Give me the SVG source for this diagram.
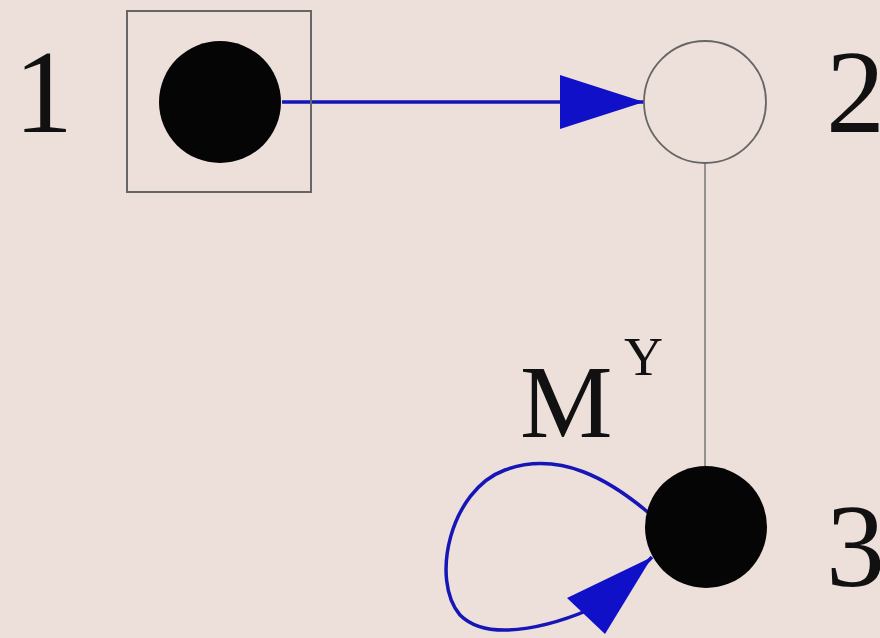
<svg xmlns="http://www.w3.org/2000/svg" width="880" height="638" viewBox="0 0 880 638">
<style>
.lbl{font-family:"Liberation Serif","Times New Roman",serif;fill:#111;}
.edge{stroke:#1515b8;stroke-width:3.5;fill:none;}
.thin{stroke:#777;stroke-width:1.5;fill:none;}
</style>
<defs>
<marker id="ah" markerUnits="userSpaceOnUse" markerWidth="90" markerHeight="60" refX="84" refY="27" orient="auto">
<path d="M0,0 L84,27 L0,54 Z" fill="#1010c8"/>
</marker>
</defs>
<rect width="880" height="638" fill="#ede0da"/>
<g id="connectors">
<line class="edge" x1="282" y1="102" x2="644" y2="102" marker-end="url(#ah)"/>
<line class="thin" x1="705" y1="163" x2="705" y2="466"/>
<path class="edge" d="M650 514 C610 480,560 450,505 470 C450 490,430 580,460 615 C490 645,560 625,610 600 L652 557" stroke-linejoin="round"/>
<path d="M652 557 L567 598 L605 634 Z" fill="#1010c8"/>
</g>
<g id="node1">
<rect x="127" y="11" width="184" height="181" fill="none" stroke="#666" stroke-width="2"/>
<circle cx="220" cy="102" r="61" fill="#050505"/>
<text class="lbl" x="14" y="132" font-size="118">1</text>
</g>
<g id="node2">
<circle cx="705" cy="102" r="61" fill="none" stroke="#666" stroke-width="1.8"/>
<text class="lbl" x="826" y="132" font-size="118">2</text>
</g>
<g id="node3">
<circle cx="706" cy="527" r="61" fill="#050505"/>
<text class="lbl" x="826" y="586" font-size="118">3</text>
</g>
<g id="label">
<text class="lbl" x="520" y="437" font-size="104">M<tspan x="624" y="375" font-size="54">Y</tspan></text>
</g>
</svg>
